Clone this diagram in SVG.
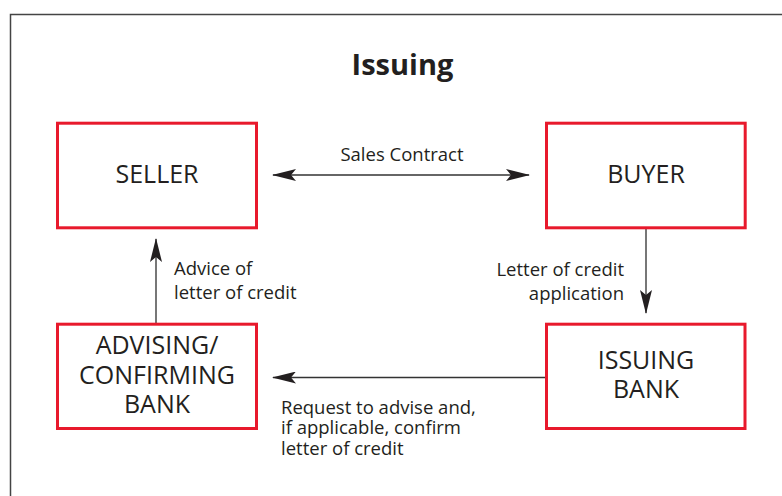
<svg xmlns="http://www.w3.org/2000/svg" width="782" height="496" viewBox="0 0 782 496">
<style>
.box{fill:#fff;stroke:#e8192c;stroke-width:3}
.node{font-family:"Open Sans","Noto Sans","Liberation Sans",sans-serif;font-size:25px;fill:#231f20;text-anchor:middle}
.lbl{font-family:"Open Sans","Noto Sans","Liberation Sans",sans-serif;font-size:18.5px;fill:#231f20}
.title{font-family:"Open Sans","Noto Sans","Liberation Sans",sans-serif;font-size:29px;font-weight:bold;fill:#231f20;text-anchor:middle}
.con{fill:none;stroke:#333;stroke-width:1.4}
.con2{fill:none;stroke:#555;stroke-width:1.6}
</style>
<defs>
<marker id="arr" markerUnits="userSpaceOnUse" viewBox="0 0 24 12" refX="23" refY="6" markerWidth="24" markerHeight="12" orient="auto-start-reverse">
<path d="M0,0 L24,6 L0,12 L5,6 Z" fill="#231f20"/>
</marker>
</defs>
<rect width="782" height="496" fill="#fff"/>
<path d="M10.5,496 V14.5 H782" fill="none" stroke="#444" stroke-width="1.5"/>
<text class="title" x="402.5" y="75">Issuing</text>
<g id="connectors">
<line class="con" x1="273" y1="175" x2="529" y2="175" marker-start="url(#arr)" marker-end="url(#arr)"/>
<line class="con2" x1="646" y1="229" x2="646" y2="313" marker-end="url(#arr)"/>
<line class="con" x1="545" y1="377.5" x2="273" y2="377.5" marker-end="url(#arr)"/>
<line class="con2" x1="156" y1="323" x2="156" y2="239" marker-end="url(#arr)"/>
<text class="lbl" x="402" y="161" text-anchor="middle">Sales Contract</text>
<text class="lbl" x="624" y="276" text-anchor="end">Letter of credit</text>
<text class="lbl" x="624" y="300" text-anchor="end">application</text>
<text class="lbl" x="174" y="275">Advice of</text>
<text class="lbl" x="174" y="298.5">letter of credit</text>
<text class="lbl" x="281" y="413.5">Request to advise and,</text>
<text class="lbl" x="281" y="434">if applicable, confirm</text>
<text class="lbl" x="281" y="454.5">letter of credit</text>
</g>
<g id="seller">
<rect class="box" x="57.5" y="123.2" width="199" height="104.6"/>
<text class="node" x="157" y="183">SELLER</text>
</g>
<g id="buyer">
<rect class="box" x="546.5" y="123.2" width="198.7" height="104.6"/>
<text class="node" x="646" y="183">BUYER</text>
</g>
<g id="advising">
<rect class="box" x="57.5" y="324.2" width="199" height="104.3"/>
<text class="node" x="157" y="354">ADVISING/</text>
<text class="node" x="157" y="383.5">CONFIRMING</text>
<text class="node" x="157" y="412.8">BANK</text>
</g>
<g id="issuing">
<rect class="box" x="546.5" y="324.2" width="198.5" height="104.3"/>
<text class="node" x="646" y="369">ISSUING</text>
<text class="node" x="646" y="398">BANK</text>
</g>
</svg>
